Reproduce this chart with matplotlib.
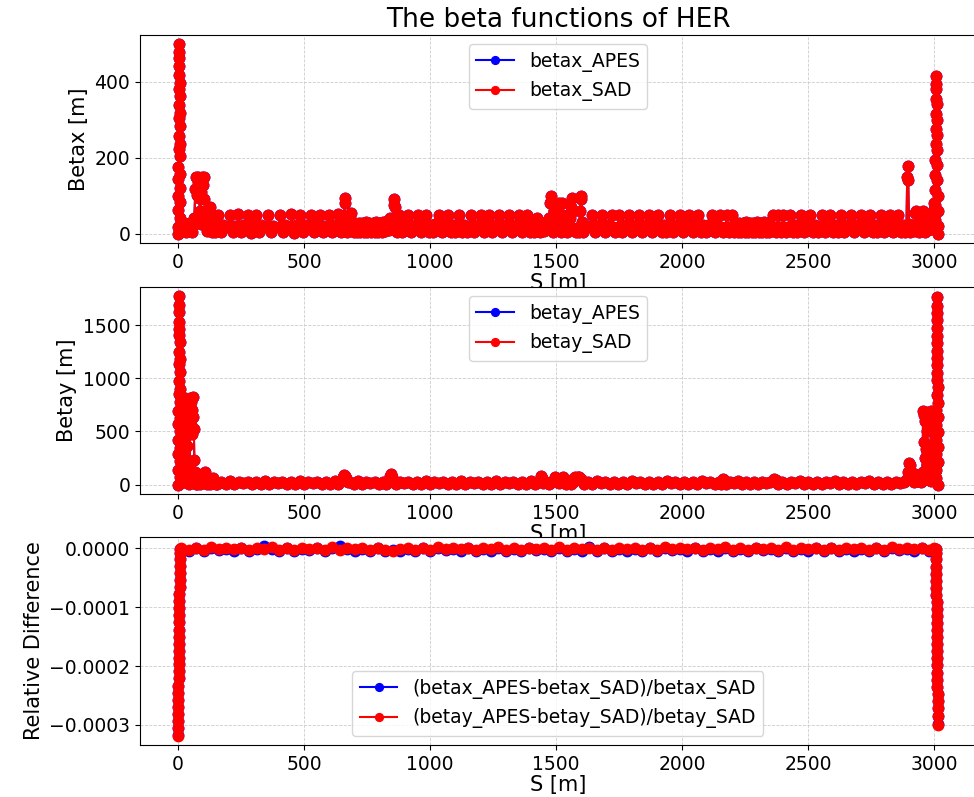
import numpy as np
import matplotlib
matplotlib.use("Agg")
import matplotlib.pyplot as plt

# ---- betax ----
s_betax = [
    0.0, 0.4, 0.8, 1.2, 1.6, 2.0, 2.4, 2.8, 3.2, 3.6, 4.0, 4.4, 4.8, 5.2,
    5.6, 6.0, 6.4, 6.8, 7.2, 7.6, 8.0, 8.4, 8.8, 9.2, 9.6, 10.0, 10.4,
    13, 18, 24, 30, 36, 42, 48, 54, 60, 65, 69, 72, 75, 78, 81, 84,
    87, 90, 93, 96, 99, 102, 105, 109, 114, 120, 124, 127, 130, 136, 142, 148,
    156, 160, 164, 172, 180, 202, 206, 210, 218, 226, 235, 239, 243, 251, 259,
    275, 279, 283, 291, 299, 307, 311, 315, 323, 331, 353, 357, 361, 369, 377,
    400, 404, 408, 416, 424, 446, 450, 454, 462, 470, 479, 483, 487, 495, 503,
    525, 529, 533, 541, 549, 558, 562, 566, 574, 582, 597, 601, 605, 613, 621,
    630, 634, 638, 646, 652, 657, 661, 662, 665, 671, 677, 683, 687, 691, 697,
    703, 710, 717, 724, 731, 738, 745, 752, 759, 766, 773, 780, 787, 794, 801, 808, 815, 822, 829, 836, 842, 848,
    855, 858, 859, 861, 864, 870, 874, 878, 882, 890, 898, 907, 911, 915, 923, 931,
    947, 951, 955, 963, 971, 980, 984, 988, 996, 1004, 1012, 1020, 1033, 1037, 1041, 1049, 1057,
    1066, 1070, 1074, 1082, 1090, 1100, 1112, 1116, 1120, 1128, 1136, 1146, 1158, 1162, 1166, 1174, 1182,
    1198, 1202, 1206, 1214, 1222, 1231, 1235, 1239, 1247, 1255, 1270, 1274, 1278, 1286, 1294,
    1310, 1314, 1318, 1326, 1334, 1349, 1353, 1357, 1365, 1373, 1382, 1386, 1390, 1398, 1406, 1414,
    1422, 1426, 1430, 1438, 1446, 1454, 1462, 1468,
    1474, 1477, 1479, 1481, 1484, 1488, 1492, 1495, 1498, 1502, 1506, 1510, 1512, 1515, 1520, 1525, 1528, 1532,
    1538, 1544, 1550, 1556, 1560, 1564, 1567, 1572, 1578, 1584, 1590, 1596, 1599, 1601, 1603, 1608, 1615,
    1639, 1643, 1647, 1655, 1663, 1679, 1683, 1687, 1695, 1703, 1719, 1723, 1727, 1735,
    1745, 1749, 1753, 1761, 1769, 1785, 1789, 1793, 1801, 1809, 1824, 1828, 1832, 1840, 1848,
    1864, 1868, 1872, 1880, 1888, 1903, 1907, 1911, 1919, 1927, 1938, 1950, 1954, 1958, 1966, 1974,
    1989, 1993, 1997, 2005, 2013, 2026, 2030, 2034, 2042, 2050, 2061, 2065, 2069, 2077, 2085,
    2096, 2105, 2114, 2118, 2122, 2130, 2138, 2147, 2151, 2155, 2162, 2174, 2178, 2182, 2188, 2194,
    2198, 2202, 2207, 2214, 2221, 2228, 2235, 2242, 2249, 2256, 2263, 2270, 2277, 2284, 2291, 2298,
    2305, 2312, 2319, 2326, 2333, 2340, 2347, 2354,
    2362, 2366, 2372, 2378, 2382, 2386, 2392, 2398, 2402, 2406, 2414, 2422, 2428, 2432, 2440, 2448, 2458, 2466,
    2470, 2474, 2478, 2486, 2494, 2504, 2508, 2512, 2520, 2528, 2540, 2550, 2554, 2558, 2566, 2574,
    2583, 2587, 2591, 2599, 2607, 2618, 2629, 2633, 2637, 2645, 2653, 2668, 2672, 2676, 2684, 2692,
    2708, 2712, 2716, 2724, 2732, 2741, 2745, 2749, 2757, 2765, 2776, 2787, 2791, 2795, 2803, 2811,
    2820, 2824, 2828, 2836, 2844, 2853, 2857, 2861, 2869, 2877, 2886, 2891, 2894, 2896, 2898, 2901,
    2907, 2914, 2920, 2926, 2930, 2934, 2940, 2946, 2952, 2956, 2960, 2966, 2972, 2978, 2984, 2989, 2993,
    2996, 2998, 3000, 3002, 3003.5, 3004.2, 3004.8, 3005.4, 3006.0, 3006.6, 3007.2, 3007.8, 3008.4,
    3009.0, 3009.6, 3010.2, 3010.8, 3011.4, 3012.0, 3012.6, 3013.2, 3013.8, 3014.4, 3015.0, 3015.6, 3016.0,
]
betax_sad = [
    0.1, 18, 62, 98, 143, 176, 224, 258, 305, 338, 382, 418, 463, 498,
    478, 441, 397, 362, 318, 284, 236, 203, 158, 121, 83, 42, 16,
    30, 8, 27, 4, 24, 10, 28, 3, 22, 40, 118, 148, 102, 135, 150, 95,
    60, 25, 110, 150, 128, 148, 90, 40, 6, 28, 45, 70, 30, 4, 22, 3,
    18, 50, 18, 3, 22, 17, 49, 19, 4, 21, 18, 51, 18, 3, 22,
    19, 50, 17, 2, 23, 18, 48, 18, 3, 22, 18, 50, 19, 4, 21,
    18, 50, 18, 3, 22, 17, 51, 18, 2, 22, 18, 49, 18, 3, 23,
    18, 50, 17, 3, 22, 19, 50, 18, 4, 21, 18, 50, 18, 3, 22,
    18, 52, 18, 3, 22, 25, 95, 80, 30, 4, 24, 20, 55, 20, 3,
    27, 4, 29, 3, 28, 5, 30, 4, 28, 3, 29, 5, 30, 4, 29, 3, 31, 6, 33, 10, 42, 20,
    30, 75, 90, 70, 20, 4, 18, 50, 18, 3, 22, 18, 50, 18, 3, 22,
    18, 50, 18, 3, 22, 18, 50, 18, 3, 22, 4, 24, 18, 50, 18, 3, 22,
    18, 50, 18, 3, 22, 4, 18, 50, 18, 3, 22, 4, 18, 50, 18, 3, 22,
    18, 50, 18, 3, 22, 18, 50, 18, 3, 22, 18, 50, 18, 3, 22,
    18, 50, 18, 3, 22, 18, 50, 18, 3, 22, 18, 50, 18, 3, 22, 5,
    15, 40, 12, 3, 20, 8, 30, 12,
    40, 80, 98, 85, 30, 5, 60, 80, 50, 75, 10, 60, 80, 40, 3, 80, 50, 15,
    30, 5, 20, 40, 70, 95, 60, 10, 3, 15, 5, 60, 90, 100, 30, 5, 22,
    18, 50, 18, 3, 22, 18, 50, 18, 3, 22, 18, 50, 18, 3,
    18, 50, 18, 3, 22, 18, 50, 18, 3, 22, 18, 50, 18, 3, 22,
    18, 50, 18, 3, 22, 18, 50, 18, 3, 22, 4, 18, 50, 18, 3, 22,
    18, 50, 18, 3, 22, 18, 50, 18, 3, 22, 18, 50, 18, 3, 22,
    4, 22, 18, 50, 18, 3, 22, 18, 50, 18, 3, 18, 50, 18, 3, 18,
    50, 18, 4, 28, 4, 29, 3, 28, 5, 30, 4, 28, 3, 29, 5, 30,
    4, 29, 3, 30, 5, 28, 4, 20,
    50, 18, 4, 18, 50, 18, 4, 18, 50, 18, 3, 18, 50, 18, 3, 22, 4, 20,
    18, 50, 18, 3, 22, 18, 50, 18, 3, 22, 4, 18, 50, 18, 3, 22,
    18, 50, 18, 3, 22, 4, 18, 50, 18, 3, 22, 18, 50, 18, 3, 22,
    18, 50, 18, 3, 22, 18, 50, 18, 3, 22, 4, 18, 50, 18, 3, 22,
    18, 50, 18, 3, 22, 18, 50, 18, 3, 22, 5, 20, 150, 178, 140, 25,
    4, 22, 8, 55, 60, 20, 5, 30, 55, 60, 25, 5, 28, 10, 35, 40, 12,
    30, 60, 45, 80, 35, 75, 115, 155, 195, 235, 275, 315, 355,
    395, 415, 380, 340, 300, 260, 220, 180, 140, 100, 60, 20, 0.1,
]
# APES and SAD agree to ~1e-6, so the two curves coincide at this scale
betax_apes = betax_sad

# ---- betay (middle panel) ----
s_betay = [
    0.0, 0.4, 0.8, 1.2, 1.6, 2.0, 2.4, 2.8, 3.2, 3.6, 4.0, 4.4, 4.8, 5.2,
    5.6, 6.0, 6.4, 6.8, 7.2, 7.6, 8.0, 8.4, 8.8, 9.2, 9.6, 10.0, 10.4,
    12, 15, 17, 19, 21, 23, 25, 27, 29, 31, 33, 35, 37, 39, 41,
    44, 47, 49, 51, 53, 55, 57, 59, 61, 63, 65, 67, 69, 72,
    76, 82, 88, 94, 100, 105, 108, 111, 116, 122, 128, 134, 139, 143, 150,
    156, 172, 189, 206, 224, 241, 258, 276, 293, 310,
    328, 345, 362, 380, 397, 414, 432, 449, 466, 484,
    501, 518, 536, 553, 570, 588, 605, 622, 637, 648, 655, 660, 664, 668, 674,
    684, 700, 716, 732, 748, 764, 780, 796, 812, 826, 838, 842, 845, 848, 853,
    864, 880, 897, 914, 932, 949, 966, 984, 1001, 1018,
    1036, 1053, 1070, 1088, 1105, 1122, 1140, 1157, 1174, 1192,
    1209, 1226, 1244, 1261, 1278, 1296, 1313, 1330, 1348, 1365,
    1382, 1400, 1417, 1428, 1436, 1440, 1444, 1450, 1460, 1472, 1484, 1494, 1498, 1502,
    1506, 1514, 1522, 1527, 1531, 1538, 1548, 1558, 1566, 1572, 1576, 1581, 1586, 1592,
    1598, 1604, 1612, 1628, 1645, 1662, 1679, 1696, 1714, 1731, 1748, 1766, 1783,
    1800, 1818, 1835, 1852, 1870, 1887, 1904, 1922, 1939, 1956,
    1974, 1991, 2008, 2026, 2043, 2060, 2078, 2095, 2112, 2130,
    2146, 2154, 2160, 2164, 2168, 2176, 2190, 2206, 2222, 2238, 2254, 2270, 2286, 2302,
    2318, 2334, 2350, 2362, 2367, 2372, 2382, 2398, 2415,
    2432, 2450, 2467, 2484, 2502, 2519, 2536, 2554, 2571, 2588,
    2606, 2623, 2640, 2658, 2675, 2692, 2710, 2727, 2744, 2762,
    2779, 2796, 2814, 2831, 2848, 2866, 2880, 2890, 2898, 2903,
    2906, 2910, 2915, 2920, 2926, 2930, 2936, 2942, 2948, 2952, 2955, 2957, 2959,
    2961, 2963, 2965, 2967, 2969, 2971, 2973, 2975, 2978, 2981, 2984, 2987, 2990,
    2992, 2994, 2996, 2998, 3000, 3002, 3004, 3006, 3008,
    3009.0, 3009.3, 3009.6, 3009.9, 3010.2, 3010.5, 3010.8, 3011.1, 3011.4, 3011.7, 3012.0, 3012.3, 3012.6,
    3012.9, 3013.2, 3013.5, 3013.8, 3014.1, 3014.4, 3014.7, 3015.0, 3015.3, 3015.6, 3015.9, 3016.0,
]
betay_sad = [
    0.1, 135, 290, 415, 570, 690, 850, 975, 1130, 1250, 1405, 1530, 1690, 1770,
    1620, 1465, 1340, 1180, 1060, 900, 780, 625, 505, 345, 220, 70, 15,
    40, 300, 60, 780, 150, 700, 420, 810, 250, 620, 90, 530, 360, 760, 30,
    10, 200, 810, 560, 780, 480, 700, 640, 820, 520, 230, 120, 20, 5,
    10, 25, 5, 15, 40, 110, 120, 60, 10, 20, 5, 40, 60, 30, 8,
    4, 26, 8, 30, 5, 22, 12, 28, 4, 26,
    8, 30, 5, 22, 12, 28, 4, 26, 8, 30,
    5, 22, 12, 28, 4, 26, 8, 30, 5, 30, 70, 90, 85, 60, 20,
    26, 8, 30, 5, 22, 12, 28, 4, 26, 8, 30, 80, 100, 70, 20,
    5, 22, 12, 28, 4, 26, 8, 30, 5, 22,
    12, 28, 4, 26, 8, 30, 5, 22, 12, 28,
    4, 26, 8, 30, 5, 22, 12, 28, 4, 26,
    8, 30, 5, 22, 30, 80, 60, 15, 28, 4, 26, 45, 70, 60,
    20, 12, 28, 70, 50, 8, 30, 5, 22, 60, 75, 50, 70, 75,
    55, 30, 8, 26, 5, 30, 12, 22, 4, 28, 8, 26, 5,
    30, 12, 22, 4, 28, 8, 26, 5, 30, 12,
    22, 4, 28, 8, 26, 5, 30, 12, 22, 4,
    28, 8, 30, 55, 40, 5, 26, 12, 30, 4, 22, 8, 28, 5,
    26, 12, 22, 30, 55, 45, 8, 28, 4,
    26, 12, 30, 5, 22, 8, 28, 4, 26, 12,
    30, 5, 22, 8, 28, 4, 26, 12, 30, 5,
    22, 8, 28, 4, 26, 12, 20, 40, 120, 200,
    180, 120, 60, 20, 100, 60, 30, 80, 20, 60, 120, 690, 400,
    650, 250, 600, 330, 680, 180, 500, 60, 150, 40, 100, 30, 690,
    350, 620, 200, 560, 300, 690, 120, 450, 60,
    140, 285, 420, 565, 700, 845, 980, 1125, 1260, 1400, 1545, 1680, 1760,
    1610, 1470, 1330, 1195, 1050, 915, 770, 635, 490, 350, 210, 0.1,
]
betay_apes = betay_sad

# ---- relative differences (bottom panel), in units of 1e-6 ----
s_reldiff = [
    0.0, 0.3, 0.6, 0.9, 1.2, 1.5, 1.8, 2.1, 2.4, 2.7, 3.0, 3.3, 3.6, 3.9,
    4.2, 4.5, 4.8, 5.1, 5.4, 5.7, 6.0, 6.3, 6.6, 6.9, 7.2, 7.5, 7.8, 8.1,
    12, 42, 72, 102, 132, 162, 192, 222, 252, 282,
    312, 342, 372, 402, 432, 462, 492, 522, 552, 582,
    612, 642, 672, 702, 732, 762, 792, 822, 852, 882,
    912, 942, 972, 1002, 1032, 1062, 1092, 1122, 1152, 1182,
    1212, 1242, 1272, 1302, 1332, 1362, 1392, 1422, 1452, 1482,
    1512, 1542, 1572, 1602, 1632, 1662, 1692, 1722, 1752, 1782,
    1812, 1842, 1872, 1902, 1932, 1962, 1992, 2022, 2052, 2082,
    2112, 2142, 2172, 2202, 2232, 2262, 2292, 2322, 2352, 2382,
    2412, 2442, 2472, 2502, 2532, 2562, 2592, 2622, 2652, 2682,
    2712, 2742, 2772, 2802, 2832, 2862, 2892, 2922, 2952, 2982,
    3002,
    3008.0, 3008.3, 3008.6, 3008.9, 3009.2, 3009.5, 3009.8, 3010.1, 3010.4, 3010.7, 3011.0, 3011.3, 3011.6,
    3011.9, 3012.2, 3012.5, 3012.8, 3013.1, 3013.4, 3013.7, 3014.0, 3014.3, 3014.6, 3014.9, 3015.2, 3016.0,
]
reldiff_x_ppm = [
    -317, -305, -293, -281, -270, -257, -245, -233, -221, -209, -197, -186, -174, -162,
    -150, -138, -126, -114, -102, -90, -78, -66, -54, -42, -30, -18, -8, -2,
    -1.0, -4.5, 0.0, -5.0, 1.0, -3.5, -1.0, -4.0, 0.5, -5.0,
    -0.5, 3.0, -1.0, -4.5, 0.5, -5.0, -1.0, -3.5, 0.0, -4.5,
    0.5, 3.0, -1.5, -4.0, -0.5, -4.5, 0.0, -5.0, -3.0, -4.0,
    -1.0, -4.5, 0.0, -5.0, 1.0, -3.5, -1.0, -4.0, 0.5, -5.0,
    -0.5, -4.0, 1.0, -4.5, -1.0, -5.0, 0.0, -3.5, -0.5, -4.5,
    0.5, -5.0, -1.0, -4.0, 2.5, -4.5, 0.0, -5.0, -0.5, -4.0,
    -1.0, -4.5, 0.0, -5.0, 1.0, -3.5, -1.0, -4.0, 0.5, -5.0,
    -0.5, -4.0, 1.0, -4.5, -1.0, -5.0, 0.0, -3.5, -0.5, -4.5,
    0.5, -5.0, -1.0, -4.0, 1.0, -4.5, 0.0, -5.0, -0.5, -4.0,
    -1.0, -4.5, 0.0, -5.0, 1.0, -3.5, -1.0, -4.0, 0.5, -5.0,
    -1.0,
    -2, -8, -19, -31, -43, -55, -67, -79, -91, -103, -115, -127, -139,
    -151, -163, -175, -187, -199, -211, -223, -235, -247, -259, -271, -285, -299,
]
reldiff_y_ppm = [
    -318, -305, -293, -281, -270, -257, -245, -233, -221, -209, -197, -186, -174, -162,
    -150, -138, -126, -114, -102, -90, -78, -66, -54, -42, -30, -18, -8, -2,
    1.0, -2.5, 0.5, -3.0, 1.5, -1.5, 0.0, -2.0, 1.0, -3.0,
    0.5, -2.0, 1.5, -2.5, 0.0, -3.0, 1.0, -1.5, 0.5, -2.5,
    1.5, -3.0, 0.0, -2.0, 1.0, -2.5, 0.5, -3.0, -5.0, -2.0,
    1.0, -2.5, 0.5, -3.0, 1.5, -1.5, 0.0, -2.0, 1.0, -3.0,
    0.5, -2.0, 1.5, -2.5, 0.0, -3.0, 1.0, -1.5, 0.5, -2.5,
    1.5, -3.0, 0.0, -2.0, 1.0, -2.5, 0.5, -3.0, 1.0, -2.0,
    1.0, -2.5, 0.5, -3.0, 1.5, -1.5, 0.0, -2.0, 1.0, -3.0,
    0.5, -2.0, 1.5, -2.5, 0.0, -3.0, 1.0, -1.5, 0.5, -2.5,
    1.5, -3.0, 0.0, -2.0, 1.0, -2.5, 0.5, -3.0, 1.0, -2.0,
    1.0, -2.5, 0.5, -3.0, 1.5, -1.5, 0.0, -2.0, 1.0, -3.0,
    0.5,
    -2, -8, -19, -31, -43, -55, -67, -79, -91, -103, -115, -127, -139,
    -151, -163, -175, -187, -199, -211, -223, -235, -247, -259, -271, -285, -300,
]

TICK_FS = 13.5
LABEL_FS = 15
MS = 7.5

fig = plt.figure(figsize=(9.74, 7.97), dpi=100)
ax1 = fig.add_axes([0.1437, 0.6951, 0.8583, 0.2610])
ax2 = fig.add_axes([0.1437, 0.3802, 0.8583, 0.2597])
ax3 = fig.add_axes([0.1437, 0.0652, 0.8583, 0.2610])

# top: betax
ax1.plot(s_betax, betax_apes, 'o-', color='blue', markersize=MS, label='betax_APES')
ax1.plot(s_betax, betax_sad, 'o-', color='red', markersize=MS, label='betax_SAD')
ax1.set_ylabel('Betax [m]', fontsize=LABEL_FS)
ax1.set_title('The beta functions of HER', fontsize=19)
ax1.legend(loc='upper center', fontsize=TICK_FS, markerscale=0.75)

# middle: betay
ax2.plot(s_betay, betay_apes, 'o-', color='blue', markersize=MS, label='betay_APES')
ax2.plot(s_betay, betay_sad, 'o-', color='red', markersize=MS, label='betay_SAD')
ax2.set_ylabel('Betay [m]', fontsize=LABEL_FS)
ax2.legend(loc='upper center', fontsize=TICK_FS, markerscale=0.75)

# bottom: relative differences
ax3.plot(s_reldiff, np.array(reldiff_x_ppm) * 1e-6, 'o-', color='blue', markersize=MS,
         label='(betax_APES-betax_SAD)/betax_SAD')
ax3.plot(s_reldiff, np.array(reldiff_y_ppm) * 1e-6, 'o-', color='red', markersize=MS,
         label='(betay_APES-betay_SAD)/betay_SAD')
ax3.set_ylabel('Relative Difference', fontsize=LABEL_FS)
ax3.legend(loc='lower center', fontsize=TICK_FS, markerscale=0.75)

for ax in (ax1, ax2, ax3):
    ax.set_xlabel('S [m]', fontsize=LABEL_FS, labelpad=1)
    ax.tick_params(labelsize=TICK_FS)
    ax.grid(True, linestyle='--', color='#cccccc', linewidth=0.6)
    ax.set_axisbelow(True)

fig.savefig('out.png', dpi=100)
